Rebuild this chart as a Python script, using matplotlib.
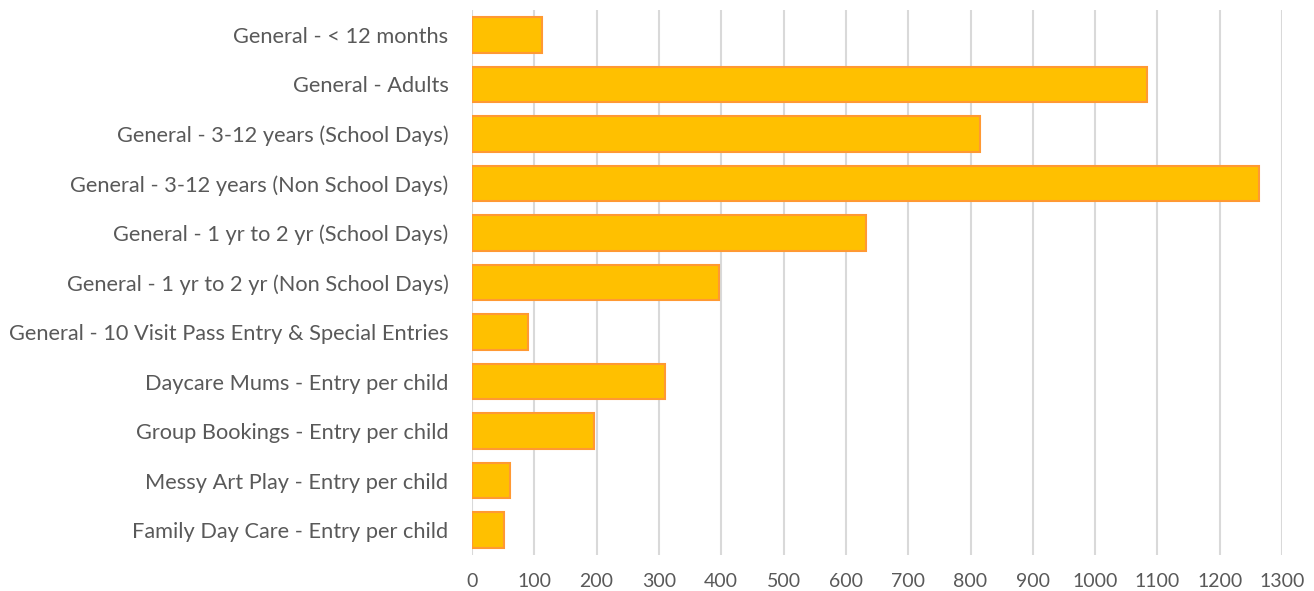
import matplotlib.pyplot as plt

categories = [
    "General - < 12 months",
    "General - Adults",
    "General - 3-12 years (School Days)",
    "General - 3-12 years (Non School Days)",
    "General - 1 yr to 2 yr (School Days)",
    "General - 1 yr to 2 yr (Non School Days)",
    "General - 10 Visit Pass Entry & Special Entries",
    "Daycare Mums - Entry per child",
    "Group Bookings - Entry per child",
    "Messy Art Play - Entry per child",
    "Family Day Care - Entry per child",
]
values = [113, 1083, 816, 1263, 632, 397, 90, 309, 196, 61, 52]
xticks = list(range(0, 1301, 100))

plt.rcParams["font.family"] = ["Lato", "DejaVu Sans"]

fig = plt.figure(figsize=(13.14, 5.91), dpi=100)
ax = fig.add_axes([0.3592, 0.061, 0.6165, 0.922])

pos = list(range(len(categories)))
ax.barh(pos, values, height=0.72, color="#FFC000", edgecolor="#FF9933",
        linewidth=1.5, zorder=3)

ax.set_ylim(len(categories) - 0.5, -0.5)
ax.set_yticks(pos)
ax.set_yticklabels(categories, fontsize=15.7)
ax.set_xlim(0, 1300)
ax.set_xticks(xticks)
ax.set_xticklabels([str(t) for t in xticks], fontsize=14)

for s in ax.spines.values():
    s.set_visible(False)
ax.grid(axis="x", color="#D9D9D9", linewidth=1.5, zorder=0)
ax.tick_params(axis="both", length=0, colors="#595959")
ax.tick_params(axis="y", pad=17)
ax.tick_params(axis="x", pad=13)

fig.savefig("out.png", dpi=100)
